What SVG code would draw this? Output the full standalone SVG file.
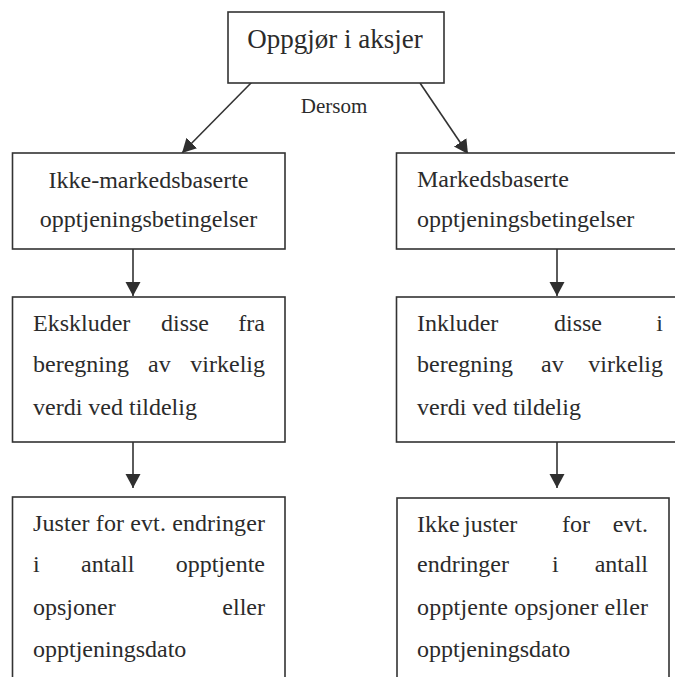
<svg xmlns="http://www.w3.org/2000/svg" width="675" height="677" viewBox="0 0 675 677">
<defs>
<marker id="ah" markerUnits="userSpaceOnUse" markerWidth="15" markerHeight="16" refX="14" refY="7.5" orient="auto">
<path d="M0,0 L14,7.5 L0,15 z" fill="#2f2f2f"/>
</marker>
<style>
.box{fill:#fff;stroke:#333;stroke-width:1.6}
.t{font-family:'Liberation Serif','Times New Roman','DejaVu Serif',serif;font-size:24px;fill:#2b2b2b}
.c{stroke:#333;stroke-width:1.6;fill:none;marker-end:url(#ah)}
</style>
</defs>
<rect width="675" height="677" fill="#fff"/>
<g id="connectors">
<line class="c" x1="252" y1="82" x2="182" y2="153"/>
<line class="c" x1="420" y1="83" x2="468" y2="154"/>
<line class="c" x1="133" y1="249" x2="133" y2="296"/>
<line class="c" x1="133" y1="442" x2="133" y2="488"/>
<line class="c" x1="557" y1="249" x2="557" y2="296"/>
<line class="c" x1="557" y1="442" x2="557" y2="488"/>
<text class="t" font-family="Liberation Serif, serif" x="334" y="113" text-anchor="middle" style="font-size:21px">Dersom</text>
</g>
<g id="top">
<rect class="box" x="228" y="12" width="216" height="71"/>
<text class="t" font-family="Liberation Serif, serif" x="335" y="48" text-anchor="middle" style="font-size:27px">Oppgjør i aksjer</text>
</g>
<g id="left1">
<rect class="box" x="12.5" y="153" width="272.5" height="96"/>
<text class="t" x="148.5" y="188" text-anchor="middle">Ikke-markedsbaserte</text>
<text class="t" x="148.5" y="227" text-anchor="middle">opptjeningsbetingelser</text>
</g>
<g id="left2">
<rect class="box" x="12.5" y="297" width="272.5" height="145"/>
<text class="t" y="331"><tspan x="33">Ekskluder</tspan> <tspan x="161">disse</tspan> <tspan x="265" text-anchor="end">fra</tspan></text>
<text class="t" y="372"><tspan x="33">beregning</tspan> <tspan x="148">av</tspan> <tspan x="265" text-anchor="end">virkelig</tspan></text>
<text class="t" x="33" y="415">verdi ved tildelig</text>
</g>
<g id="left3">
<rect class="box" x="12.5" y="497" width="272.5" height="200"/>
<text class="t" x="33" y="531" textLength="232" lengthAdjust="spacing">Juster for evt. endringer</text>
<text class="t" y="572"><tspan x="33">i</tspan> <tspan x="81">antall</tspan> <tspan x="265" text-anchor="end">opptjente</tspan></text>
<text class="t" y="615"><tspan x="33">opsjoner</tspan> <tspan x="265" text-anchor="end">eller</tspan></text>
<text class="t" x="33" y="657">opptjeningsdato</text>
</g>
<g id="right1">
<rect class="box" x="396.5" y="153" width="300" height="96"/>
<text class="t" x="417" y="187">Markedsbaserte</text>
<text class="t" x="417" y="227">opptjeningsbetingelser</text>
</g>
<g id="right2">
<rect class="box" x="396.5" y="297" width="300" height="145"/>
<text class="t" y="331"><tspan x="417">Inkluder</tspan> <tspan x="554">disse</tspan> <tspan x="663" text-anchor="end">i</tspan></text>
<text class="t" y="372"><tspan x="417">beregning</tspan> <tspan x="541">av</tspan> <tspan x="663" text-anchor="end">virkelig</tspan></text>
<text class="t" x="417" y="415">verdi ved tildelig</text>
</g>
<g id="right3">
<rect class="box" x="397" y="498" width="272" height="200"/>
<text class="t" y="532"><tspan x="417">Ikke</tspan> <tspan x="464">juster</tspan> <tspan x="562">for</tspan> <tspan x="648" text-anchor="end">evt.</tspan></text>
<text class="t" y="572"><tspan x="417">endringer</tspan> <tspan x="552">i</tspan> <tspan x="648" text-anchor="end">antall</tspan></text>
<text class="t" x="417" y="615" textLength="231" lengthAdjust="spacing">opptjente opsjoner eller</text>
<text class="t" x="417" y="657">opptjeningsdato</text>
</g>
</svg>
